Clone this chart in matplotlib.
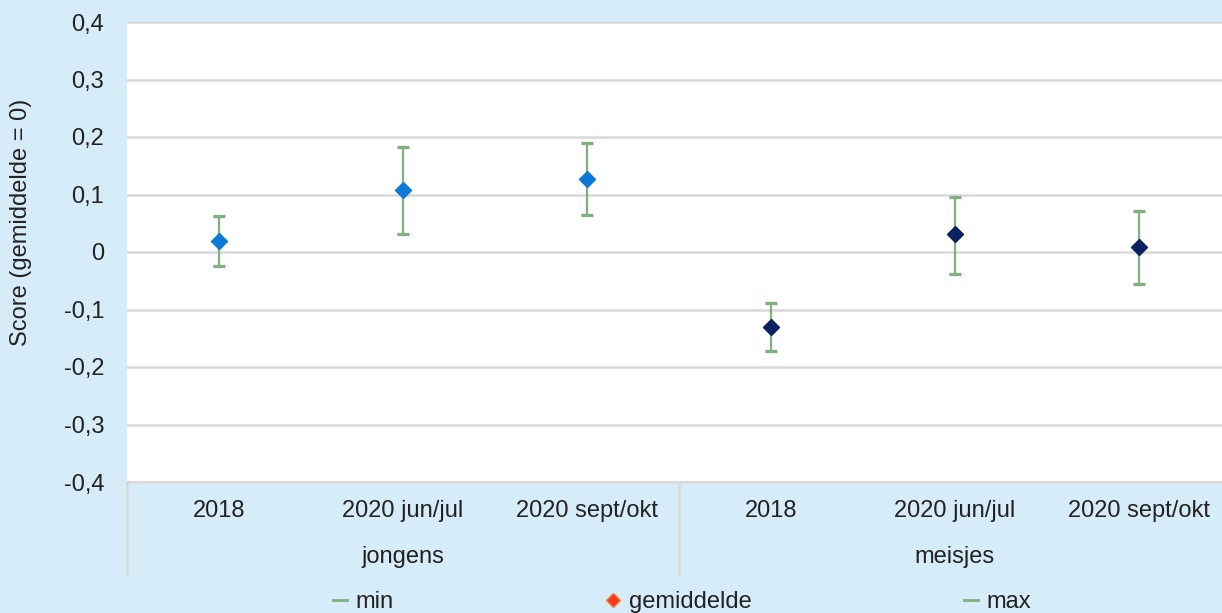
#!/usr/bin/env python
"""
Score per groep en meetmoment, met min/max als foutbalken.
"""

import matplotlib
matplotlib.use("Agg")
import matplotlib.pyplot as plt
from matplotlib.lines import Line2D

# data
periods = ["2018", "2020 jun/jul", "2020 sept/okt"]
groups = ["jongens", "meisjes"]
jongens_mean = [0.020, 0.108, 0.127]
jongens_min = [-0.024, 0.031, 0.065]
jongens_max = [0.062, 0.183, 0.190]
meisjes_mean = [-0.130, 0.031, 0.009]
meisjes_min = [-0.172, -0.038, -0.055]
meisjes_max = [-0.089, 0.096, 0.071]
yticks = [-0.4, -0.3, -0.2, -0.1, 0, 0.1, 0.2, 0.3, 0.4]

BG = "#D6ECF9"
GREEN = "#80B081"
GRID = "#D9D9D9"
FS = 17

plt.rcParams['font.family'] = ['Liberation Sans', 'DejaVu Sans']

W, H = 1222, 613
fig = plt.figure(figsize=(W / 100, H / 100), dpi=100, facecolor=BG)
ax = fig.add_axes([127 / W, (H - 482) / H, (1231 - 127) / W, 460 / H])
ax.set_facecolor("white")

labels = periods + periods
xs = list(range(len(labels)))
series = [
    (xs[:3], jongens_mean, jongens_min, jongens_max, "#0A7AD6"),
    (xs[3:], meisjes_mean, meisjes_min, meisjes_max, "#0B2161"),
]
for x, m, lo, hi, col in series:
    yerr = [[a - b for a, b in zip(m, lo)], [b - a for a, b in zip(m, hi)]]
    ax.errorbar(x, m, yerr=yerr, fmt="none", ecolor=GREEN, elinewidth=1.6,
                capsize=4.5, capthick=2.4, zorder=3)
    ax.plot(x, m, linestyle="none", marker="D", markersize=8.5,
            color=col, zorder=4)

ax.set_xlim(-0.5, 5.5)
ax.set_ylim(-0.4, 0.4)
ax.set_yticks(yticks)
ax.set_yticklabels(["0" if v == 0 else f"{v:.1f}".replace(".", ",")
                    for v in yticks], fontsize=FS)
ax.set_xticks(xs)
ax.set_xticklabels(labels, fontsize=FS)
ax.tick_params(axis="both", length=0, colors="#222222")
ax.tick_params(axis="y", pad=16.5)
ax.tick_params(axis="x", pad=13)
ax.grid(axis="y", color=GRID, linewidth=1.8)
ax.set_axisbelow(True)
for s in ["top", "right", "left"]:
    ax.spines[s].set_visible(False)
ax.spines["bottom"].set_color(GRID)
ax.spines["bottom"].set_linewidth(1.8)

# category separators below the axis
depth = -(575 - 482) / 460
for xv in [-0.5, 2.5]:
    ax.plot([xv, xv], [0, depth], transform=ax.get_xaxis_transform(),
            color=GRID, linewidth=1.8, clip_on=False)
for i, g in enumerate(groups):
    ax.text(1 + 3 * i, -(557 - 482) / 460, g, transform=ax.get_xaxis_transform(),
            ha="center", va="center", fontsize=FS, color="#222222")

fig.text(21 / W, 1 - 222 / H, "Score (gemiddelde = 0)", rotation=90,
         ha="center", va="center", fontsize=FS, color="#222222")

handles = [
    Line2D([], [], color=GREEN, linewidth=2),
    Line2D([], [], linestyle="none", marker="D", markersize=7,
           color="#F53A1A", markeredgecolor="#FF7A30"),
    Line2D([], [], color=GREEN, linewidth=2),
]
fig.legend(handles, ["min", "gemiddelde", "max"], loc="center",
           bbox_to_anchor=(682 / W, 1 - 602 / H), ncol=3, frameon=False,
           fontsize=FS, handlelength=0.6, handletextpad=0.35,
           columnspacing=9.0, labelcolor="#222222")

fig.savefig("out.png", dpi=100, facecolor=BG)
